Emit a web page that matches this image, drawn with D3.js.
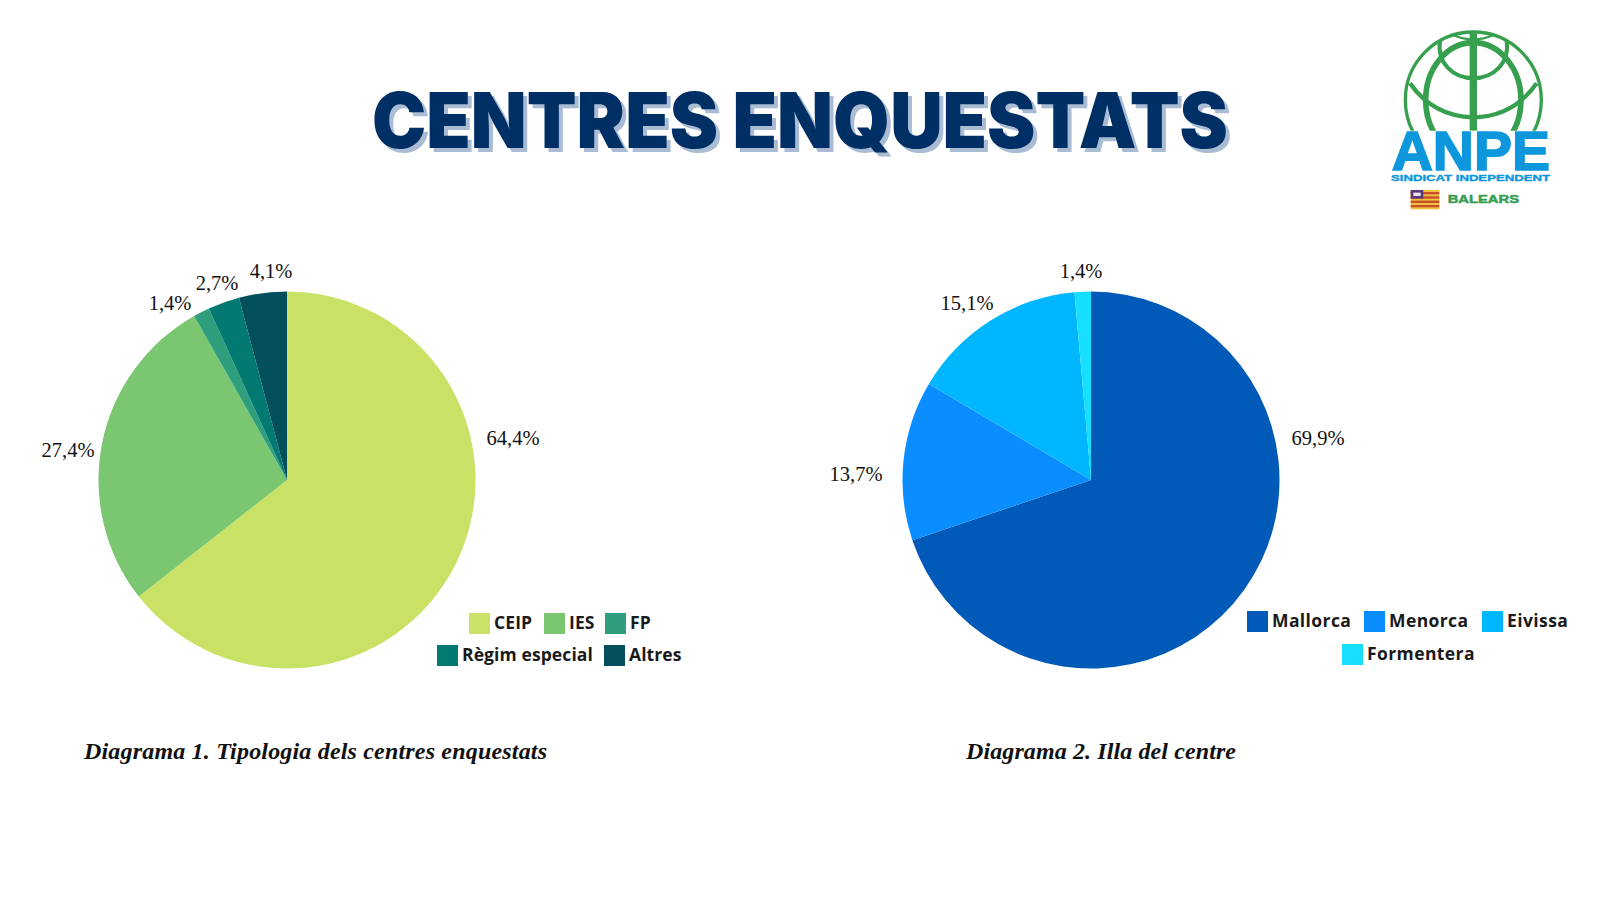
<!DOCTYPE html>
<html>
<head>
<meta charset="utf-8">
<script src="https://cdn.jsdelivr.net/npm/d3@7"></script>
<style>
  html, body { margin: 0; background: #fff; }
</style>
</head>
<body>
<div class="chart"></div>
<script>
const width = 1600;
const height = 900;

const labels1 = ['CEIP', 'IES', 'FP', 'Règim especial', 'Altres'];
const values1 = [64.4, 27.4, 1.4, 2.7, 4.1];
const text1 = ['64,4%', '27,4%', '1,4%', '2,7%', '4,1%'];
const colors1 = ['#c9e265', '#7ac671', '#2e9e7d', '#027a72', '#034f5c'];

const labels2 = ['Mallorca', 'Menorca', 'Eivissa', 'Formentera'];
const values2 = [69.9, 13.7, 15.1, 1.4];
const text2 = ['69,9%', '13,7%', '15,1%', '1,4%'];
const colors2 = ['#015ab7', '#0a8dff', '#00b7ff', '#17dfff'];

const svg = d3.select('.chart')
    .append('svg')
    .attr('width', width)
    .attr('height', height)
    .style('display', 'block');

// title, the offset shadow comes from a css filter
svg.append('text')
    .attr('x', 800)
    .attr('y', 148)
    .attr('text-anchor', 'middle')
    .attr('font-family', 'Inter')
    .attr('font-weight', 900)
    .attr('font-size', 77)
    .attr('textLength', 856)
    .attr('lengthAdjust', 'spacingAndGlyphs')
    .attr('fill', '#002f66')
    .style('filter', 'drop-shadow(4px 4px 0 #a9bcd3)')
    .text('CENTRES ENQUESTATS');

function drawPie(cx, cy, r, values, colors, text, labelPos) {
    const pie = d3.pie().sort(null).value(d => d);
    const arc = d3.arc().innerRadius(0).outerRadius(r);
    const g = svg.append('g').attr('transform', `translate(${cx},${cy})`);

    g.selectAll('path')
        .data(pie(values))
        .enter()
        .append('path')
        .attr('d', arc)
        .attr('fill', (d, i) => colors[i]);

    svg.append('g').selectAll('text')
        .data(text)
        .enter()
        .append('text')
        .attr('x', (d, i) => labelPos[i][0])
        .attr('y', (d, i) => labelPos[i][1])
        .attr('text-anchor', 'middle')
        .attr('font-family', 'Liberation Serif')
        .attr('font-size', 20.5)
        .attr('fill', '#111')
        .text(d => d);
}

function drawLegend(labels, colors, pos, spacing) {
    const items = svg.append('g').selectAll('g')
        .data(labels)
        .enter()
        .append('g')
        .attr('transform', (d, i) => `translate(${pos[i][0]},${pos[i][1]})`);

    items.append('rect')
        .attr('width', 21)
        .attr('height', 21)
        .attr('fill', (d, i) => colors[i]);

    items.append('text')
        .attr('x', 25)
        .attr('y', 16)
        .attr('font-family', 'Open Sans')
        .attr('font-weight', 700)
        .attr('font-size', 17.5)
        .attr('letter-spacing', spacing)
        .attr('fill', '#1a1a1a')
        .text(d => d);
}

drawPie(287, 480, 188.5, values1, colors1, text1,
    [[513, 445], [68, 457], [170, 310], [217, 290], [271, 278]]);
drawPie(1091, 480, 188.5, values2, colors2, text2,
    [[1318, 445], [856, 481], [967, 310], [1081, 278]]);

drawLegend(labels1, colors1,
    [[469, 613], [544, 613], [605, 613], [437, 645], [604, 645]], 0.1);
drawLegend(labels2, colors2,
    [[1247, 611], [1364, 611], [1482, 611], [1342, 644]], 0.4);

// captions
[['Diagrama 1. Tipologia dels centres enquestats', 84, 463],
 ['Diagrama 2. Illa del centre', 966, 270]].forEach(d => {
    svg.append('text')
        .attr('x', d[1])
        .attr('y', 759)
        .attr('font-family', 'Liberation Serif')
        .attr('font-weight', 700)
        .attr('font-style', 'italic')
        .attr('font-size', 24)
        .attr('textLength', d[2])
        .attr('fill', '#111')
        .text(d[0]);
});

// logo, drawn in 3x units
const logo = svg.append('g').attr('transform', 'translate(1390,20) scale(0.3333)');
logo.append('clipPath').attr('id', 'globe-clip')
    .append('rect').attr('x', 0).attr('y', 0).attr('width', 500).attr('height', 332);
const globe = logo.append('g')
    .attr('clip-path', 'url(#globe-clip)')
    .attr('fill', 'none')
    .attr('stroke', '#37a04f');
globe.append('ellipse').attr('cx', 250).attr('cy', 240).attr('rx', 204).attr('ry', 204).attr('stroke-width', 10);
globe.append('ellipse').attr('cx', 250).attr('cy', 240).attr('rx', 143).attr('ry', 172).attr('stroke-width', 17);
globe.append('line').attr('x1', 250).attr('y1', 40).attr('x2', 250).attr('y2', 332).attr('stroke-width', 22);
globe.append('path').attr('d', 'M60,190 Q130,290 250,292 Q370,290 440,190').attr('stroke-width', 13);
globe.append('path').attr('d', 'M150,62 C140,130 190,175 250,175 C310,175 360,130 350,62').attr('stroke-width', 12);
globe.append('path').attr('d', 'M190,45 Q250,72 310,45').attr('stroke-width', 7);

[['ANPE', 5, 450, 168, 475, 5, '#0f97dd'],
 ['SINDICAT INDEPENDENT', 3, 482, 29, 477, 1.2, '#0f97dd'],
 ['BALEARS', 173, 550, 32, 214, 1.5, '#3b9e55']].forEach(d => {
    logo.append('text')
        .attr('x', d[1])
        .attr('y', d[2])
        .attr('font-family', 'Liberation Sans')
        .attr('font-weight', 700)
        .attr('font-size', d[3])
        .attr('textLength', d[4])
        .attr('lengthAdjust', 'spacingAndGlyphs')
        .attr('fill', d[6])
        .attr('stroke', d[6])
        .attr('stroke-width', d[5])
        .text(d[0]);
});

// flag of the islands
const flag = logo.append('g').attr('transform', 'translate(62,510)');
flag.append('rect').attr('width', 86).attr('height', 58).attr('fill', '#f2c040');
d3.range(4).forEach(i => {
    flag.append('rect')
        .attr('y', 6 + i * 13)
        .attr('width', 86)
        .attr('height', 7)
        .attr('fill', '#c8502a');
});
flag.append('rect').attr('width', 38).attr('height', 26).attr('fill', '#5a3a78');
flag.append('rect').attr('x', 8).attr('y', 8).attr('width', 22).attr('height', 10).attr('fill', '#e8e4e8');
</script>
</body>
</html>
